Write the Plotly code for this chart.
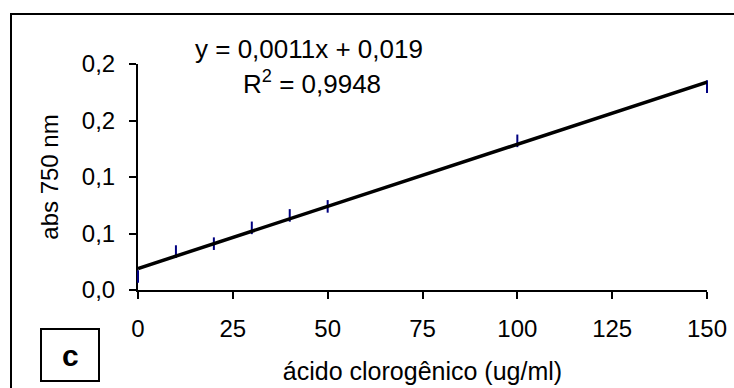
import plotly.graph_objects as go

# Data
conc = [0, 10, 20, 30, 40, 50, 100, 150]
absorb = [0.012, 0.034, 0.041, 0.055, 0.066, 0.074, 0.132, 0.180]

# Trendline coefficients (as printed on chart)
trend_slope = 0.0011
trend_intercept = 0.019
trend_x = [0, 150]

x_ticks = [0, 25, 50, 75, 100, 125, 150]
y_ticks = [0, 0.05, 0.1, 0.15, 0.2]
y_ticktext = ["0,0", "0,1", "0,1", "0,2", "0,2"]

eq_text = "y = 0,0011x + 0,019"
r2_text = "R<sup>2</sup> = 0,9948"
panel_label = "c"
x_title = "ácido clorogênico (ug/ml)"
y_title = "abs 750 nm"

W, H = 734, 388
L, R, T, B = 138, 27, 64, 98
pw, ph = W - L - R, H - T - B


def px(xp):
    return (xp - L) / pw


def py(yp):
    return (H - B - yp) / ph


FONT = "Liberation Sans, Arial, sans-serif"

fig = go.Figure()
fig.add_trace(go.Scatter(
    x=conc, y=absorb, mode="markers",
    marker=dict(symbol="line-ns", size=9, line=dict(width=2, color="#000080"), color="#000080"),
    cliponaxis=False, showlegend=False,
))
fig.add_trace(go.Scatter(
    x=trend_x, y=[trend_intercept + trend_slope * v for v in trend_x],
    mode="lines", line=dict(color="black", width=3.5),
    cliponaxis=False, showlegend=False,
))

fig.update_layout(
    width=W, height=H,
    margin=dict(l=L, r=R, t=T, b=B, autoexpand=False),
    paper_bgcolor="white", plot_bgcolor="white",
    font=dict(family=FONT, size=24, color="black"),
    xaxis=dict(
        range=[0, 150], tickvals=x_ticks, ticks="outside", ticklen=7, tickwidth=2,
        tickcolor="black", showline=True, linecolor="black", linewidth=2,
        showgrid=False, zeroline=False, ticklabelstandoff=9, automargin=False,
        layer="below traces",
        title=dict(text=x_title, standoff=22, font=dict(size=25)),
    ),
    yaxis=dict(
        range=[0, 0.2], tickvals=y_ticks, ticktext=y_ticktext, ticks="outside",
        ticklen=7, tickwidth=2, tickcolor="black", showline=True, linecolor="black",
        linewidth=2, showgrid=False, zeroline=False, ticklabelstandoff=9,
        automargin=False, layer="below traces",
        title=dict(text=y_title, standoff=16, font=dict(size=24)),
    ),
    shapes=[
        dict(type="rect", xref="paper", yref="paper",
             x0=px(11), x1=px(745), y0=py(400), y1=py(14),
             line=dict(color="black", width=2), fillcolor="rgba(0,0,0,0)", layer="below"),
        dict(type="rect", xref="paper", yref="paper",
             x0=px(41), x1=px(99), y0=py(381), y1=py(329),
             line=dict(color="black", width=2), fillcolor="rgba(0,0,0,0)"),
    ],
    annotations=[
        dict(text=eq_text, xref="paper", yref="paper", x=px(309), y=py(49),
             showarrow=False, xanchor="center", yanchor="middle", font=dict(size=26)),
        dict(text=r2_text, xref="paper", yref="paper", x=px(312), y=py(82),
             showarrow=False, xanchor="center", yanchor="middle", font=dict(size=26)),
        dict(text="<b>" + panel_label + "</b>", xref="paper", yref="paper", x=px(70), y=py(355),
             showarrow=False, xanchor="center", yanchor="middle", font=dict(size=30)),
    ],
)

fig.write_html("out.html")
